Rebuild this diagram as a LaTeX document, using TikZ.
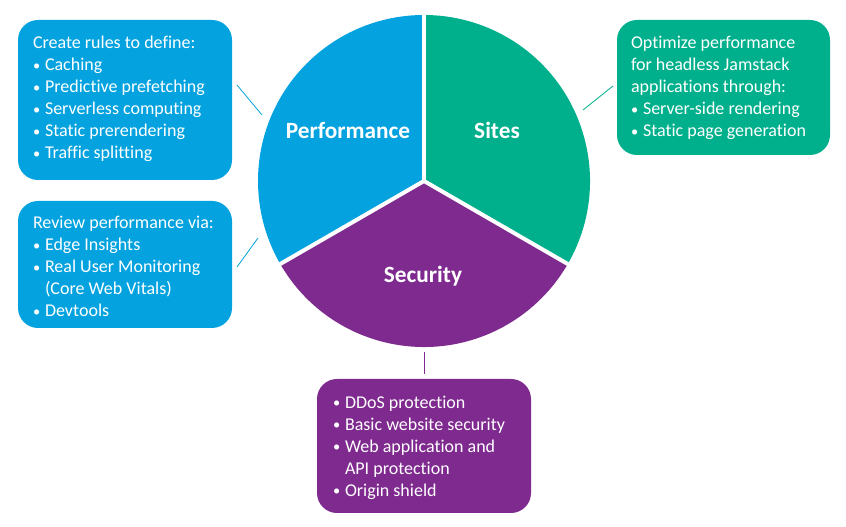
\documentclass[tikz,border=0pt]{standalone}
\usepackage{fontspec}
\setmainfont{Carlito}[Ligatures=NoCommon]
\definecolor{perfblue}{HTML}{04A3DF}
\definecolor{sitegreen}{HTML}{00B08C}
\definecolor{secpurple}{HTML}{7F2A8F}
\newcommand{\bl}{\makebox[12pt][l]{\raisebox{0.5pt}{\scalebox{0.8}{•}}}}
\newcommand{\ind}{\hspace*{12pt}}
\begin{document}
\begin{tikzpicture}[x=1pt,y=1pt,
  infobox/.style={rounded corners=20pt, inner sep=0pt},
  infotext/.style={text=white, align=left, anchor=west, inner sep=0pt,
    font=\fontsize{18}{22}\selectfont},
  seclabel/.style={text=white, font=\fontsize{23.3}{26}\selectfont\bfseries},
  link/.style={line width=0.8pt}]
\useasboundingbox (0,0) rectangle (846,527);
\coordinate (C) at (424,346);
% sectors
\fill[perfblue] (C) -- ++(90:166) arc[start angle=90,end angle=210,radius=166] -- cycle;
\fill[secpurple] (C) -- ++(210:166) arc[start angle=210,end angle=330,radius=166] -- cycle;
\fill[sitegreen] (C) -- ++(330:166) arc[start angle=-30,end angle=90,radius=166] -- cycle;
\foreach \a in {90,210,330} \draw[white,line width=4pt] (C) -- ++(\a:170);
% labels
\node[seclabel] (perf) at (348,397) {Performance};
\node[seclabel] (sites) at (497,397) {Sites};
\node[seclabel] (sec) at (423,251) {Security};
% boxes
\node[infobox, fill=perfblue, minimum width=214pt, minimum height=160pt] (b1) at (125,427) {};
\node[infobox, fill=perfblue, minimum width=214pt, minimum height=127pt] (b2) at (125,262.5) {};
\node[infobox, fill=sitegreen, minimum width=213pt, minimum height=135pt] (b3) at (723.5,439.5) {};
\node[infobox, fill=secpurple, minimum width=214pt, minimum height=134pt] (b4) at (424,81) {};
% texts
\node[infotext] (t1) at ([xshift=15pt,yshift=1pt]b1.west) {Create rules to define:\\
\bl Caching\\
\bl Predictive prefetching\\
\bl Serverless computing\\
\bl Static prerendering\\
\bl Traffic splitting};
\node[infotext] (t2) at ([xshift=15pt,yshift=-2pt]b2.west) {Review performance via:\\
\bl Edge Insights\\
\bl Real User Monitoring\\
\ind (Core Web Vitals)\\
\bl Devtools};
\node[infotext] (t3) at ([xshift=14pt,yshift=-0.5pt]b3.west) {Optimize performance\\
for headless Jamstack\\
applications through:\\
\bl Server-side rendering\\
\bl Static page generation};
\node[infotext] (t4) at ([xshift=16pt,yshift=-1.5pt]b4.west) {\bl DDoS protection\\
\bl Basic website security\\
\bl Web application and\\
\ind API protection\\
\bl Origin shield};
% connectors
\coordinate (c1a) at (237,442); \coordinate (c1b) at (262,412);
\coordinate (c2a) at (258,289); \coordinate (c2b) at (237,260);
\coordinate (c3a) at (583,417); \coordinate (c3b) at (613,441);
\coordinate (c4a) at (424,175); \coordinate (c4b) at (424,153);
\draw[link, perfblue] (c1a) -- (c1b);
\draw[link, perfblue] (c2a) -- (c2b);
\draw[link, sitegreen] (c3a) -- (c3b);
\draw[link, secpurple] (c4a) -- (c4b);
\end{tikzpicture}
\end{document}
